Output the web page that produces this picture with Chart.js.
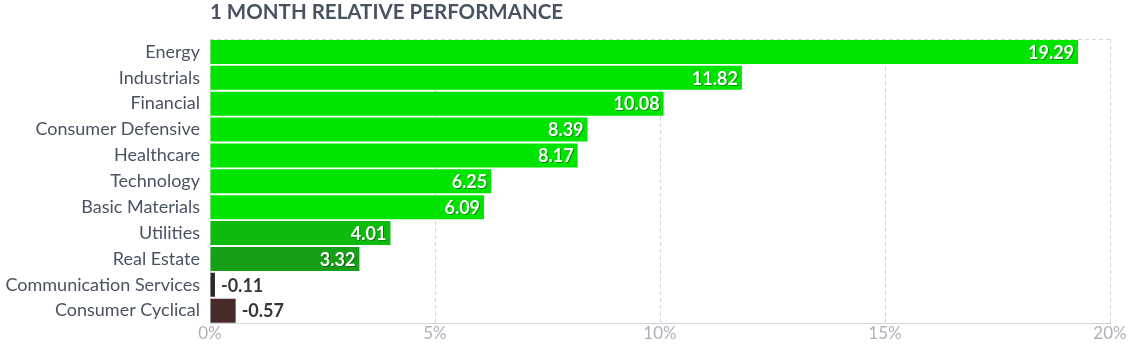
<!DOCTYPE html>
<html>
<head>
<meta charset="utf-8">
<script src="https://cdn.jsdelivr.net/npm/chart.js@4.4.1/dist/chart.umd.min.js"></script>
<style>
  html, body { margin: 0; padding: 0; background: #ffffff; }
  #wrap { position: relative; width: 1133px; height: 356px; }
</style>
</head>
<body>
<div id="wrap"><canvas id="c" width="1133" height="356"></canvas></div>
<script>
const title = '1 MONTH RELATIVE PERFORMANCE';
const categories = ['Energy', 'Industrials', 'Financial', 'Consumer Defensive', 'Healthcare', 'Technology', 'Basic Materials', 'Utilities', 'Real Estate', 'Communication Services', 'Consumer Cyclical'];
const values = [19.29, 11.82, 10.08, 8.39, 8.17, 6.25, 6.09, 4.01, 3.32, -0.11, -0.57];
const tickValues = [0, 5, 10, 15, 20];

const barColors = ['#00e400', '#00e400', '#00e400', '#00e400', '#00e400', '#00e400', '#00e400', '#0cbb0c', '#17a017', '#2e2727', '#472b2b'];

const FONT = 'Lato, "Open Sans", sans-serif';

const valueLabels = {
  id: 'valueLabels',
  afterDatasetsDraw(chart) {
    const ctx = chart.ctx;
    const meta = chart.getDatasetMeta(0);
    ctx.save();
    ctx.font = 'bold 18px ' + FONT;
    ctx.textBaseline = 'middle';
    meta.data.forEach((bar, i) => {
      const v = values[i];
      const txt = v.toFixed(2);
      if (v >= 0) {
        ctx.textAlign = 'right';
        ctx.fillStyle = 'rgba(0,0,0,0.35)';
        ctx.fillText(txt, bar.x - 3, bar.y + 2);
        ctx.fillStyle = '#ffffff';
        ctx.fillText(txt, bar.x - 4, bar.y + 1);
      } else {
        ctx.textAlign = 'left';
        ctx.fillStyle = '#3a3434';
        ctx.fillText(txt, bar.x + 6, bar.y + 1);
      }
    });
    ctx.restore();
  }
};

const frame = {
  id: 'frame',
  beforeDatasetsDraw(chart) {
    const a = chart.chartArea;
    const ctx = chart.ctx;
    ctx.save();
    ctx.strokeStyle = '#d4d4dc';
    ctx.lineWidth = 1;
    ctx.setLineDash([4, 3]);
    ctx.beginPath();
    ctx.moveTo(a.left, a.top + 0.5);
    ctx.lineTo(a.right, a.top + 0.5);
    ctx.stroke();
    ctx.restore();
  },
  afterDraw(chart) {
    const a = chart.chartArea;
    const ctx = chart.ctx;
    ctx.save();
    ctx.font = 'bold 20.5px ' + FONT;
    ctx.fillStyle = '#4a5262';
    ctx.textAlign = 'left';
    ctx.textBaseline = 'middle';
    ctx.fillText(title, a.left, 12);
    ctx.restore();
  }
};

new Chart(document.getElementById('c'), {
  type: 'bar',
  data: {
    labels: categories,
    datasets: [{
      data: values.map(v => Math.abs(v)),
      backgroundColor: barColors,
      borderWidth: 0,
      barPercentage: 0.93,
      categoryPercentage: 1.0
    }]
  },
  options: {
    indexAxis: 'y',
    responsive: false,
    animation: false,
    layout: { padding: { top: 39, right: 23, bottom: 12, left: 0 } },
    plugins: { legend: { display: false }, tooltip: { enabled: false }, title: { display: false } },
    scales: {
      x: {
        min: 0, max: 20,
        afterBuildTicks(scale) { scale.ticks = tickValues.map(v => ({ value: v })); },
        ticks: {
          color: '#b0b0ba',
          font: { family: FONT, size: 17 },
          padding: 0,
          callback: v => v + '%'
        },
        grid: { color: '#d4d4dc', lineWidth: 1, drawTicks: false, tickBorderDash: [4, 3] },
        border: { display: true, color: '#d4d4dc', dash: [4, 3] }
      },
      y: {
        afterFit(scale) { scale.width = 210; },
        ticks: {
          color: '#4b5263',
          font: { family: FONT, size: 18 },
          padding: 10
        },
        grid: { display: false, drawTicks: false },
        border: { display: false }
      }
    }
  },
  plugins: [valueLabels, frame]
});
</script>
</body>
</html>
